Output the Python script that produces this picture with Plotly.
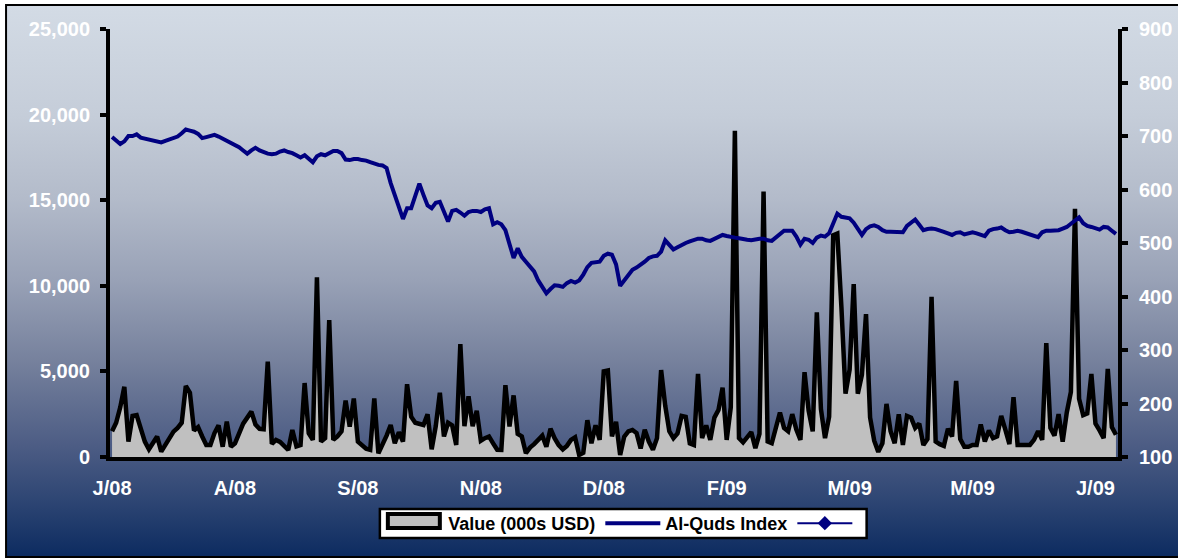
import base64
import plotly.graph_objects as go

# Daily traded value (thousands of USD), one entry per trading session
value_k = [
    1500, 2000, 2900, 4100, 900, 2400, 2450, 1700, 900, 450,
    800, 1200, 310, 700, 1100, 1480, 1700, 2000, 4150, 3750,
    1550, 1750, 1200, 700, 700, 1400, 1850, 600, 2060, 600,
    800, 1400, 1950, 2300, 2650, 1900, 1650, 1620, 5570, 760,
    1000, 880, 650, 410, 1580, 620, 700, 4320, 1380, 1000,
    10500, 900, 1100, 8000, 1000, 1200, 1500, 3300, 1770, 3420,
    900, 650, 480, 420, 3420, 220, 700, 1250, 1870, 800,
    1450, 900, 4250, 2350, 2000, 1950, 1870, 2500, 450, 1800,
    3750, 1200, 2000, 1850, 700, 6600, 1800, 3550, 1800, 2700,
    950, 1100, 1200, 800, 420, 410, 4200, 1780, 3600, 1350,
    1200, 220, 550, 750, 1000, 1250, 600, 1650, 1100, 700,
    450, 650, 1000, 1150, 120, 250, 2150, 800, 1850, 1000,
    5000, 5050, 1200, 2050, 120, 1190, 1500, 1580, 1400, 500,
    1600, 900, 430, 1100, 5080, 3000, 1500, 1100, 1380, 2400,
    2350, 800, 700, 4850, 1100, 1850, 1000, 2300, 2750, 4050,
    1000, 2900, 19050, 1100, 850, 1200, 1450, 520, 1350, 15500,
    900, 800, 1600, 2600, 1700, 1500, 2500, 1600, 1000, 4950,
    2700, 1500, 8450, 2800, 1100, 2350, 12950, 13050, 8750, 3700,
    5100, 10100, 3700, 4800, 8350, 2300, 950, 300, 800, 3100,
    1500, 800, 2500, 700, 2400, 2300, 1700, 1950, 700, 1050,
    9350, 900, 750, 650, 1650, 1200, 4450, 1050, 600, 600,
    700, 700, 1900, 900, 1550, 1100, 1200, 2400, 1600, 750,
    3500, 700, 700, 700, 700, 1000, 1500, 1000, 6650, 1700,
    1250, 2500, 900, 2600, 3800, 14500, 3400, 2450, 2550, 4850,
    1950, 1550, 1100, 5150, 1750, 1300,
]

# Al-Quds index close for the same sessions
quds_index = [
    698, 692, 685, 690, 700, 700, 703, 697, 695, 694,
    691, 689, 688, 691, 694, 695, 699, 705, 712, 710,
    708, 704, 696, 698, 700, 702, 699, 695, 691, 688,
    683, 679, 673, 667, 673, 678, 673, 669, 667, 666,
    667, 671, 673, 670, 668, 664, 660, 664, 658, 651,
    662, 666, 664, 668, 672, 672, 668, 656, 655, 657,
    657, 655, 654, 651, 648, 646, 645, 640, 612, 590,
    563, 545, 565, 565, 588, 611, 590, 570, 565, 575,
    577, 560, 540, 560, 562, 557, 551, 558, 560, 560,
    558, 563, 565, 535, 539, 535, 524, 498, 472, 490,
    474, 465, 456, 447, 430, 418, 406, 414, 421, 420,
    418, 425, 429, 426, 430, 441, 455, 463, 464, 465,
    476, 480, 478, 460, 420, 430, 441, 450, 454, 459,
    465, 472, 475, 476, 484, 505, 496, 488, 492, 497,
    500, 503, 505, 508, 508, 505, 504, 508, 512, 515,
    513, 511, 510, 509, 507, 506, 505, 507, 508, 508,
    505, 504, 510, 518, 523, 523, 523, 512, 497, 508,
    506, 500, 510, 514, 512, 518, 536, 555, 549, 548,
    546, 538, 525, 515, 526, 531, 533, 530, 524, 521,
    521, 521, 521, 520, 532, 538, 544, 534, 524, 526,
    527, 526, 524, 521, 518, 515, 519, 520, 516, 518,
    520, 518, 516, 513, 523, 526, 527, 529, 524, 520,
    521, 523, 521, 518, 516, 513, 511, 520, 523, 523,
    523, 524, 527, 530, 536, 543, 548, 537, 532, 530,
    528, 525, 530, 529, 523, 517,
]

month_labels = ["J/08", "A/08", "S/08", "N/08", "D/08", "F/09", "M/09", "M/09", "J/09"]
label_step = 30
day_index = list(range(len(value_k)))

# Page geometry
W, H = 1178, 558
ML, MR, MT, MB = 110, 59.5, 29, 101
plot_w = W - ML - MR
plot_h = H - MT - MB


def paper_x(px):
    return (px - ML) / plot_w


def paper_y(py):
    return (H - MB - py) / plot_h


FONT = "Arial, 'Liberation Sans', sans-serif"
NAVY = "#000080"
AREA_FILL = "#c0c0c0"

# Vertical backdrop gradient, embedded as an inline SVG
stops = [
    (0.00, "#d3dbe5"), (0.20, "#c5cdd9"), (0.35, "#b3bbca"), (0.50, "#98a1b6"),
    (0.65, "#75809c"), (0.80, "#4c5c84"), (0.90, "#2d4573"), (1.00, "#0c2b60"),
]
stop_xml = "".join(f"<stop offset='{o}' stop-color='{c}'/>" for o, c in stops)
svg = (
    "<svg xmlns='http://www.w3.org/2000/svg' width='100' height='100' "
    "viewBox='0 0 100 100' preserveAspectRatio='none'>"
    f"<defs><linearGradient id='g' x1='0' y1='0' x2='0' y2='1'>{stop_xml}</linearGradient></defs>"
    "<rect width='100' height='100' fill='url(#g)'/></svg>"
)
bg_uri = "data:image/svg+xml;base64," + base64.b64encode(svg.encode()).decode()

# Outer chart frame, legend box and area-legend swatch (pixel rectangles)
frame_l, frame_t, frame_r, frame_b = 6, 5, 1182, 557
legend_l, legend_t, legend_r, legend_b = 380, 509, 867, 538
swatch_l, swatch_t, swatch_r, swatch_b = 388, 514, 440, 528

fig = go.Figure()

# Traded value as a grey area with a heavy black outline
fig.add_trace(go.Scatter(
    x=day_index, y=value_k, name="Value (000s USD)",
    mode="lines", fill="tozeroy", fillcolor=AREA_FILL,
    line=dict(color="black", width=4.5),
    legendgroup="value", showlegend=False,
    yaxis="y",
))
# Legend entry for the area series (its boxed swatch is a layout shape)
fig.add_trace(go.Scatter(
    x=[None], y=[None], name="Value (000s USD)",
    mode="lines", line=dict(color="rgba(0,0,0,0)", width=0),
    legendgroup="value",
    yaxis="y",
))
fig.add_trace(go.Scatter(
    x=day_index, y=quds_index, name="Al-Quds Index",
    mode="lines", line=dict(color=NAVY, width=4),
    yaxis="y2",
))
fig.add_trace(go.Scatter(
    x=[None], y=[None], name="",
    mode="lines+markers", line=dict(color=NAVY, width=2),
    marker=dict(symbol="diamond", size=11, color=NAVY),
    yaxis="y2",
))

tick_font = dict(family=FONT, size=20, color="white", weight="bold")

fig.update_layout(
    width=W, height=H,
    margin=dict(l=ML, r=MR, t=MT, b=MB, autoexpand=False),
    paper_bgcolor="white",
    plot_bgcolor="rgba(0,0,0,0)",
    showlegend=True,
    xaxis=dict(
        range=[-0.5, len(value_k) - 0.5],
        tickvals=day_index[::label_step],
        ticktext=month_labels,
        showgrid=False, zeroline=False,
        showline=True, linecolor="black", linewidth=4,
        ticks="", ticklabelstandoff=10,
        tickfont=tick_font,
    ),
    yaxis=dict(
        range=[0, 25000], tickvals=[0, 5000, 10000, 15000, 20000, 25000],
        tickformat=",d",
        showgrid=False, zeroline=False,
        showline=True, linecolor="black", linewidth=4,
        ticks="outside", ticklen=6, tickwidth=4, tickcolor="black",
        ticklabelstandoff=6,
        tickfont=tick_font,
    ),
    yaxis2=dict(
        range=[100, 900], tickvals=list(range(100, 1000, 100)),
        overlaying="y", side="right",
        showgrid=False, zeroline=False,
        showline=True, linecolor="black", linewidth=4,
        ticks="outside", ticklen=6, tickwidth=4, tickcolor="black",
        ticklabelstandoff=7,
        tickfont=tick_font,
    ),
    legend=dict(
        orientation="h",
        x=paper_x(623.5), xanchor="center",
        y=paper_y((legend_t + legend_b) / 2), yanchor="middle",
        bgcolor="rgba(0,0,0,0)", borderwidth=0,
        font=dict(family=FONT, size=18, color="black", weight="bold"),
        itemwidth=55,
        traceorder="normal",
    ),
    images=[dict(
        source=bg_uri, xref="paper", yref="paper",
        x=paper_x(frame_l), y=paper_y(frame_t),
        sizex=paper_x(frame_r) - paper_x(frame_l),
        sizey=paper_y(frame_t) - paper_y(frame_b),
        xanchor="left", yanchor="top",
        sizing="stretch", layer="below",
    )],
    shapes=[
        dict(
            type="rect", xref="paper", yref="paper",
            x0=paper_x(frame_l), x1=paper_x(frame_r),
            y0=paper_y(frame_b), y1=paper_y(frame_t),
            line=dict(color="black", width=2), fillcolor="rgba(0,0,0,0)",
            layer="below",
        ),
        dict(
            type="rect", xref="paper", yref="paper",
            x0=paper_x(legend_l), x1=paper_x(legend_r),
            y0=paper_y(legend_b), y1=paper_y(legend_t),
            line=dict(color="black", width=2.5), fillcolor="white",
            layer="above",
        ),
        dict(
            type="rect", xref="paper", yref="paper",
            x0=paper_x(swatch_l), x1=paper_x(swatch_r),
            y0=paper_y(swatch_b), y1=paper_y(swatch_t),
            line=dict(color="black", width=4), fillcolor=AREA_FILL,
            layer="above",
        ),
    ],
)

fig.write_html("out.html")
